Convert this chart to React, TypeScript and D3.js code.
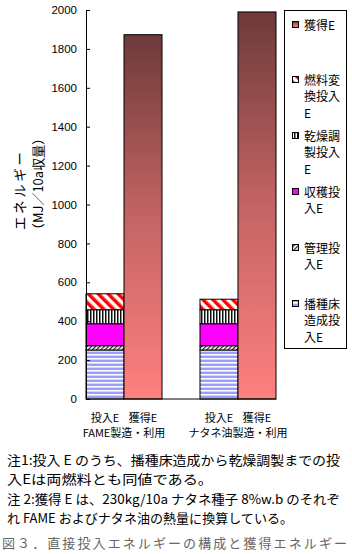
import React, { useRef, useEffect } from 'react';
import * as d3 from 'd3';

// stacked input-energy components (MJ/10a), bottom to top
const groups = ['FAME製造・利用', 'ナタネ油製造・利用'];
const bars = ['投入E', '獲得E'];
const seedbed = [252, 252];   // 播種床造成投入E
const manage = [22, 22];      // 管理投入E
const harvest = [113, 113];   // 収穫投入E
const drying = [72, 72];      // 乾燥調製投入E
const convert = [82, 54];     // 燃料変換投入E
const gained = [1873, 1990];  // 獲得E
const yTicks = [0, 200, 400, 600, 800, 1000, 1200, 1400, 1600, 1800, 2000];

const stackKeys = ['seedbed', 'manage', 'harvest', 'drying', 'convert'];
const fills: Record<string, string> = {
  seedbed: 'url(#pSeed)',
  manage: 'url(#pManage)',
  harvest: '#ff00ff',
  drying: 'url(#pDry)',
  convert: 'url(#pConv)',
  gained: 'url(#gGain)',
};
const legendItems = [
  { key: 'gained', lines: ['獲得E'] },
  { key: 'convert', lines: ['燃料変', '換投入', 'E'] },
  { key: 'drying', lines: ['乾燥調', '製投入', 'E'] },
  { key: 'harvest', lines: ['収穫投', '入E'] },
  { key: 'manage', lines: ['管理投', '入E'] },
  { key: 'seedbed', lines: ['播種床', '造成投', '入E'] },
];
const legendRows = [25, 80, 136, 192, 248, 304];
const notes = [
  '注1:投入 E のうち、播種床造成から乾燥調製までの投',
  '入Eは両燃料とも同値である。',
  '注 2:獲得 E は、230kg/10a ナタネ種子 8%w.b のそれぞ',
  'れ FAME およびナタネ油の熱量に換算している。',
];
const noteWidths = [333, 206, 333, 286];
const caption = '図３．直接投入エネルギーの構成と獲得エネルギー';

const jp = '"Noto Sans CJK JP", sans-serif';

export default function App() {
  const svgRef = useRef<SVGSVGElement>(null);

  useEffect(() => {
    const width = 352, height = 554;
    const marginLeft = 86, plotRight = 276, marginTop = 10, plotBottom = 399;

    const svg = d3.select(svgRef.current);
    svg.selectAll('*').remove();
    svg.attr('width', width).attr('height', height);

    const defs = svg.append('defs');
    // 播種床: horizontal lavender stripes
    const ps = defs.append('pattern').attr('id', 'pSeed').attr('patternUnits', 'userSpaceOnUse')
      .attr('width', 4).attr('height', 4);
    ps.append('rect').attr('width', 4).attr('height', 4).attr('fill', '#fff');
    ps.append('rect').attr('y', 0).attr('width', 4).attr('height', 2).attr('fill', '#9c9cff');
    ps.append('rect').attr('y', 3).attr('width', 4).attr('height', 1).attr('fill', '#d4d4ff');
    // 管理: fine black diagonals
    const pm = defs.append('pattern').attr('id', 'pManage').attr('patternUnits', 'userSpaceOnUse')
      .attr('width', 3).attr('height', 3).attr('patternTransform', 'rotate(45)');
    pm.append('rect').attr('width', 3).attr('height', 3).attr('fill', '#fff');
    pm.append('rect').attr('width', 1.2).attr('height', 3).attr('fill', '#222');
    // 乾燥調製: vertical black/grey stripes
    const pd = defs.append('pattern').attr('id', 'pDry').attr('patternUnits', 'userSpaceOnUse')
      .attr('width', 3).attr('height', 3);
    pd.append('rect').attr('width', 3).attr('height', 3).attr('fill', '#fff');
    pd.append('rect').attr('x', 0).attr('width', 1).attr('height', 3).attr('fill', '#111');
    pd.append('rect').attr('x', 1).attr('width', 1).attr('height', 3).attr('fill', '#888');
    // 燃料変換: red diagonal stripes
    const pc = defs.append('pattern').attr('id', 'pConv').attr('patternUnits', 'userSpaceOnUse')
      .attr('width', 7).attr('height', 7).attr('patternTransform', 'rotate(-45)');
    pc.append('rect').attr('width', 7).attr('height', 7).attr('fill', '#fff');
    pc.append('rect').attr('width', 3.5).attr('height', 7).attr('fill', '#ff0000');
    // 獲得E gradient
    const gg = defs.append('linearGradient').attr('id', 'gGain').attr('x1', 0).attr('y1', 0).attr('x2', 0).attr('y2', 1);
    gg.append('stop').attr('offset', '0%').attr('stop-color', '#6e3a3a');
    gg.append('stop').attr('offset', '50%').attr('stop-color', '#c46464');
    gg.append('stop').attr('offset', '100%').attr('stop-color', '#ff8080');

    const x0 = d3.scaleBand().domain(groups).range([marginLeft, plotRight]).paddingInner(1 / 3).paddingOuter(0);
    const x1 = d3.scaleBand().domain(bars).range([0, x0.bandwidth()]);
    const y = d3.scaleLinear().domain([0, 2000]).range([plotBottom, marginTop]);

    const table = groups.map((g, i) => ({
      group: g, seedbed: seedbed[i], manage: manage[i], harvest: harvest[i],
      drying: drying[i], convert: convert[i], gained: gained[i],
    }));
    const series = d3.stack<any>().keys(stackKeys)(table);

    // stacked input bars
    svg.append('g').selectAll('g').data(series).join('g')
      .attr('fill', d => fills[d.key])
      .selectAll('rect').data(d => d).join('rect')
      .attr('x', d => (x0(d.data.group) as number) + (x1('投入E') as number))
      .attr('width', x1.bandwidth())
      .attr('y', d => y(d[1]))
      .attr('height', d => y(d[0]) - y(d[1]))
      .attr('stroke', '#000').attr('stroke-width', 1);

    // gained energy bars
    svg.append('g').selectAll('rect').data(table).join('rect')
      .attr('x', d => (x0(d.group) as number) + (x1('獲得E') as number))
      .attr('width', x1.bandwidth())
      .attr('y', d => y(d.gained))
      .attr('height', d => y(0) - y(d.gained))
      .attr('fill', fills.gained)
      .attr('stroke', '#000').attr('stroke-width', 1);

    // y axis (inward ticks)
    svg.append('g')
      .attr('transform', `translate(${marginLeft},0)`)
      .call(d3.axisLeft(y).tickValues(yTicks).tickFormat(d3.format('d'))
        .tickSizeInner(-4).tickSizeOuter(0).tickPadding(9))
      .call(g => g.select('.domain').attr('stroke', '#000'))
      .call(g => g.selectAll('text').attr('fill', '#000')
        .style('font', '11.5px "Liberation Sans", Arial, sans-serif'));

    // x axis
    svg.append('line').attr('x1', marginLeft).attr('x2', plotRight)
      .attr('y1', y(0)).attr('y2', y(0)).attr('stroke', '#000');

    // category labels
    const xl = svg.append('g').style('font', `11px ${jp}`).attr('fill', '#000').attr('text-anchor', 'middle');
    groups.forEach(g => {
      bars.forEach(b => {
        xl.append('text')
          .attr('x', (x0(g) as number) + (x1(b) as number) + x1.bandwidth() / 2)
          .attr('y', 422).text(b);
      });
      xl.append('text').attr('x', (x0(g) as number) + x0.bandwidth() / 2).attr('y', 437).text(g);
    });

    // y title
    const yt = svg.append('g').attr('fill', '#000').attr('text-anchor', 'middle');
    yt.append('text').attr('transform', 'translate(25,191) rotate(-90)')
      .style('font', `13.5px ${jp}`)
      .attr('textLength', 78).attr('lengthAdjust', 'spacing').text('エネルギー');
    yt.append('text').attr('transform', 'translate(43,184) rotate(-90)')
      .style('font', `13px ${jp}`).text('（MJ／10a収量）');

    // legend
    const lg = svg.append('g');
    lg.append('rect').attr('x', 284.5).attr('y', 10.5).attr('width', 62).attr('height', 338)
      .attr('fill', '#fff').attr('stroke', '#000');
    legendItems.forEach((it, i) => {
      const cy = legendRows[i];
      lg.append('rect').attr('x', 292.5).attr('y', cy - 3.5).attr('width', 6).attr('height', 6)
        .attr('fill', fills[it.key]).attr('stroke', '#000');
      it.lines.forEach((ln, j) => {
        lg.append('text').attr('x', 304).attr('y', cy + 4.5 + j * 16.5)
          .style('font', `12px ${jp}`).attr('fill', '#000').text(ln);
      });
    });

    // notes
    const nt = svg.append('g').style('font', `13px ${jp}`).attr('fill', '#000');
    notes.forEach((n, i) => {
      nt.append('text').attr('x', 7).attr('y', 465 + i * 19.3)
        .attr('textLength', noteWidths[i]).attr('lengthAdjust', 'spacingAndGlyphs').text(n);
    });
    svg.append('text').attr('x', 2).attr('y', 548).style('font', `13px ${jp}`)
      .attr('fill', '#666').attr('textLength', 345).attr('lengthAdjust', 'spacing').text(caption);
  }, []);

  return (
    <div style={{ position: 'absolute', left: 0, top: 0 }}>
      <svg ref={svgRef}></svg>
    </div>
  );
}
